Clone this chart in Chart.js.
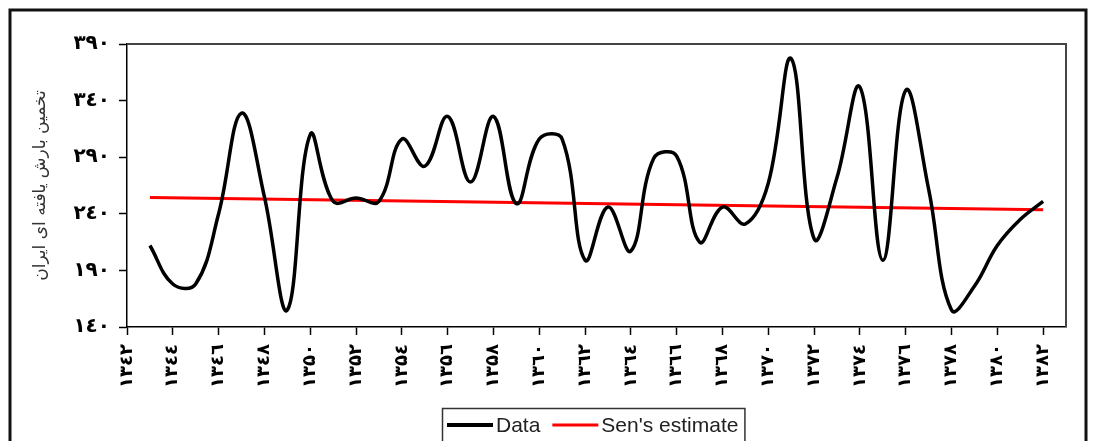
<!DOCTYPE html>
<html>
<head>
<meta charset="utf-8">
<script src="https://cdn.jsdelivr.net/npm/chart.js@4.4.1/dist/chart.umd.min.js"></script>
<style>
  html, body { margin: 0; padding: 0; background: #fff; }
  #wrap { width: 1094px; height: 441px; position: relative; }
</style>
</head>
<body>
<div id="wrap"><canvas id="c" width="1094" height="441"></canvas></div>
<script>
// Years of record (solar hijri)
const years = [1343, 1344, 1345, 1346, 1347, 1348, 1349, 1350, 1351, 1352,
               1353, 1354, 1355, 1356, 1357, 1358, 1359, 1360, 1361, 1362,
               1363, 1364, 1365, 1366, 1367, 1368, 1369, 1370, 1371, 1372,
               1373, 1374, 1375, 1376, 1377, 1378, 1379, 1380, 1381, 1382];

// Annual precipitation
const precipitation = [212, 178, 178, 240, 329, 255, 155, 310, 251, 254,
                       251, 306, 282, 326, 268, 326, 249, 306, 306, 199,
                       246, 207, 289, 291, 215, 246, 231, 267, 377, 218,
                       272, 352, 199, 349, 262, 155, 176, 212, 235, 251];

// Sen's slope trend line, first and last year
const senYears = [1343, 1382];
const senValues = [254.5, 243.5];

// Axis ticks and their labels
const xTickValues = [1342, 1344, 1346, 1348, 1350, 1352, 1354, 1356, 1358, 1360,
                     1362, 1364, 1366, 1368, 1370, 1372, 1374, 1376, 1378, 1380, 1382];
const xTickLabels = ['١٣٤٢', '١٣٤٤', '١٣٤٦', '١٣٤٨', '١٣۵٠', '١٣۵٢', '١٣۵٤', '١٣۵٦', '١٣۵٨', '١٣٦٠',
                     '١٣٦٢', '١٣٦٤', '١٣٦٦', '١٣٦٨', '١٣٧٠', '١٣٧٢', '١٣٧٤', '١٣٧٦', '١٣٧٨', '١٣٨٠', '١٣٨٢'];
const yTickValues = [140, 190, 240, 290, 340, 390];
const yTickLabels = ['١٤٠', '١٩٠', '٢٤٠', '٢٩٠', '٣٤٠', '٣٩٠'];

const yTitle = 'تخمین بارش یافته ای ایران';
const seriesNames = ['Data', "Sen's estimate"];

// Outer frame around the whole figure
const figureFrame = {
  id: 'figureFrame',
  beforeDraw(chart) {
    const ctx = chart.ctx;
    ctx.save();
    ctx.strokeStyle = '#111';
    ctx.lineWidth = 3;
    ctx.beginPath();
    ctx.moveTo(10, chart.height + 2);
    ctx.lineTo(10, 10);
    ctx.lineTo(1086, 10);
    ctx.lineTo(1086, chart.height + 2);
    ctx.stroke();
    ctx.restore();
  }
};

// Top and right edges of the plot box
const plotBox = {
  id: 'plotBox',
  afterDraw(chart) {
    const {left, top, right, bottom} = chart.chartArea;
    const ctx = chart.ctx;
    ctx.save();
    ctx.strokeStyle = '#444';
    ctx.lineWidth = 2;
    ctx.beginPath();
    ctx.moveTo(left, top);
    ctx.lineTo(right, top);
    ctx.lineTo(right, bottom);
    ctx.stroke();
    ctx.restore();
  }
};

// Boxed legend centred under the plot
const boxedLegend = {
  id: 'boxedLegend',
  afterDraw(chart) {
    const ctx = chart.ctx;
    const area = chart.chartArea;
    const xScale = chart.scales.x;
    const font = '21px "Liberation Sans", Arial, sans-serif';
    const pad = 5, sample = 46, gap = 3, itemGap = 12;
    ctx.save();
    ctx.font = font;
    const items = chart.data.datasets.map(ds => ({
      text: ds.label, color: ds.borderColor, width: ds.legendWidth || ds.borderWidth,
      tw: ctx.measureText(ds.label).width
    }));
    let total = pad * 2 + 1;
    items.forEach((it, i) => { total += sample + gap + it.tw + (i < items.length - 1 ? itemGap : 0); });
    const boxLeft = Math.round((area.left + area.right) / 2 - total / 2) - 3;
    const boxTop = xScale.bottom + 7;
    const boxH = 35;
    const cy = boxTop + 17;
    ctx.strokeStyle = '#333';
    ctx.lineWidth = 1.5;
    ctx.strokeRect(boxLeft + 0.5, boxTop + 0.5, total, boxH);
    let x = boxLeft + pad;
    ctx.textBaseline = 'middle';
    ctx.textAlign = 'left';
    items.forEach((it, i) => {
      ctx.strokeStyle = it.color;
      ctx.lineWidth = it.width;
      ctx.beginPath();
      ctx.moveTo(x, cy);
      ctx.lineTo(x + sample, cy);
      ctx.stroke();
      x += sample + gap;
      ctx.fillStyle = '#222';
      ctx.fillText(it.text, x, cy + 1);
      x += it.tw + itemGap;
    });
    ctx.restore();
  }
};

const dataPoints = years.map((yr, i) => ({x: yr, y: precipitation[i]}));
const senPoints = senYears.map((yr, i) => ({x: yr, y: senValues[i]}));

new Chart(document.getElementById('c'), {
  type: 'line',
  data: {
    datasets: [
      {
        label: seriesNames[0],
        data: dataPoints,
        borderColor: '#000',
        borderWidth: 3.5,
        legendWidth: 4,
        pointRadius: 0,
        tension: 0.4,
        fill: false
      },
      {
        label: seriesNames[1],
        data: senPoints,
        borderColor: '#ff0000',
        borderWidth: 3,
        pointRadius: 0,
        tension: 0,
        fill: false
      }
    ]
  },
  options: {
    responsive: false,
    animation: false,
    devicePixelRatio: 1,
    layout: { padding: { top: 44, right: 28, bottom: 40, left: 0 } },
    plugins: {
      legend: { display: false },
      tooltip: { enabled: false }
    },
    scales: {
      x: {
        type: 'linear',
        min: 1342,
        max: 1383,
        afterBuildTicks(s) { s.ticks = xTickValues.map(v => ({value: v})); },
        afterFit(s) { s.height = 74; },
        grid: {
          display: true,
          drawOnChartArea: false,
          drawTicks: true,
          tickLength: 8,
          tickWidth: 1.5,
          tickColor: '#000'
        },
        border: { display: true, color: '#000', width: 1.5 },
        ticks: {
          autoSkip: false,
          maxRotation: 90,
          minRotation: 90,
          padding: 9,
          color: '#000',
          font: { family: '"DejaVu Sans", sans-serif', size: 18, weight: 'bold' },
          callback(value) {
            const i = xTickValues.indexOf(value);
            return i >= 0 ? xTickLabels[i] : '';
          }
        }
      },
      y: {
        type: 'linear',
        min: 140,
        max: 390,
        afterBuildTicks(s) { s.ticks = yTickValues.map(v => ({value: v})); },
        afterFit(s) { s.width = 127; },
        grid: {
          display: true,
          drawOnChartArea: false,
          drawTicks: true,
          tickLength: 8,
          tickWidth: 1.5,
          tickColor: '#000'
        },
        border: { display: true, color: '#000', width: 1.5 },
        ticks: {
          padding: 9,
          color: '#000',
          font: { family: '"DejaVu Sans", sans-serif', size: 20, weight: 'bold' },
          callback(value) {
            const i = yTickValues.indexOf(value);
            return i >= 0 ? yTickLabels[i] : '';
          }
        },
        title: {
          display: true,
          text: yTitle,
          color: '#333',
          padding: { top: 30, bottom: 0 },
          font: { family: '"DejaVu Sans", sans-serif', size: 17 }
        }
      }
    }
  },
  plugins: [figureFrame, plotBox, boxedLegend]
});
</script>
</body>
</html>
